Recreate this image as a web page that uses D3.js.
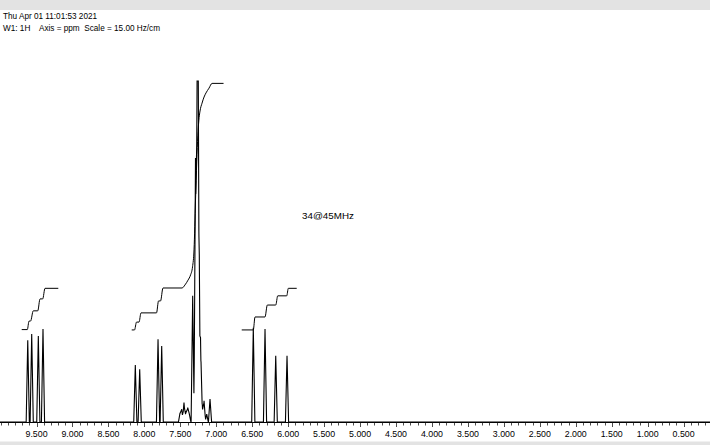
<!DOCTYPE html>
<html><head><meta charset="utf-8">
<script src="https://cdn.jsdelivr.net/npm/d3@7"></script>
<style>html,body{margin:0;padding:0;background:#fff;overflow:hidden}</style>
</head><body><svg id="c" width="710" height="445"></svg>
<script>
// ---------- data ----------
const headerLines = ["Thu Apr 01 11:01:53 2021", "W1: 1H    Axis = ppm  Scale = 15.00 Hz/cm"];
const sampleLabel = "34@45MHz";
const majorTicks = [9.5, 9.0, 8.5, 8.0, 7.5, 7.0, 6.5, 6.0, 5.5, 5.0, 4.5, 4.0, 3.5, 3.0, 2.5, 2.0, 1.5, 1.0, 0.5];
const tickLabels = ["9.500","9.000","8.500","8.000","7.500","7.000","6.500","6.000","5.500","5.000","4.500","4.000","3.500","3.000","2.500","2.000","1.500","1.000","0.500"];

// peak positions (ppm) and heights (% of tallest)
const peakPpm = [9.622, 9.567, 9.475, 9.410,
                 8.126, 8.065, 7.810, 7.759,
                 7.504, 7.481, 7.449, 7.421, 7.397, 7.375,
                 7.328, 7.289, 7.264, 7.250, 7.236, 7.219, 7.212, 7.194, 7.170, 7.133, 7.087,
                 6.485, 6.322, 6.173, 6.016];
const peakHeight = [24.0, 25.8, 25.2, 27.3,
                    16.7, 15.5, 24.3, 22.3,
                    2.7, 3.8, 5.7, 3.2, 4.2, 2.4,
                    37.0, 77.4, 100.0, 61.9, 22.9, 15.0, 6.7, 3.8, 6.2, 2.3, 6.7,
                    27.6, 27.3, 19.4, 19.4];

// integral curves: [ppm, level]
const integralA = [[9.706,27.1],[9.628,27.1],[9.604,29.6],[9.583,29.6],[9.545,32.6],[9.483,32.6],
                   [9.451,36.1],[9.414,36.1],[9.382,39.2],[9.197,39.2]];
const integralB = [[8.176,27.0],[8.137,27.0],[8.109,29.3],[8.074,29.3],[8.047,32.0],[7.831,32.0],
                   [7.803,35.5],[7.775,35.5],[7.741,39.3],[7.476,39.3],[7.435,40.2],[7.393,41.6],
                   [7.358,43.1],[7.330,45.5],[7.309,50.7],[7.289,64.8],[7.271,76.5],[7.257,83.9],
                   [7.243,88.3],[7.226,91.2],[7.198,93.5],[7.170,95.3],[7.143,96.5],[7.101,97.9],
                   [7.059,99.3],[6.899,99.3]];
const integralC = [[6.646,27.0],[6.485,27.0],[6.461,30.8],[6.322,30.8],[6.290,34.3],[6.173,34.3],
                   [6.145,37.0],[6.020,37.0],[5.998,39.2],[5.881,39.2]];

// ---------- drawing ----------
const W = 710, H = 445;
const svg = d3.select("#c");
const font = "'Liberation Sans', Arial, Helvetica, sans-serif";

svg.append("rect").attr("x",0).attr("y",0).attr("width",W).attr("height",10).attr("fill","#e3e3e3");
svg.append("rect").attr("x",0).attr("y",441.5).attr("width",W).attr("height",4).attr("fill","#e3e3e3");

const x = d3.scaleLinear().domain([10.008, 0.133]).range([0, W]);
const y = d3.scaleLinear().domain([0, 100]).range([422, 81]);

// header
svg.append("g").selectAll("text").data(headerLines).join("text")
  .attr("x", 3).attr("y", (d,i) => 18.5 + i*12)
  .attr("font-family", font).attr("font-size", 8.2).attr("fill", "#000")
  .style("white-space", "pre").attr("xml:space","preserve")
  .text(d => d);

svg.append("text").attr("x", 302).attr("y", 219)
  .attr("font-family", font).attr("font-size", 9.8).attr("fill", "#000")
  .text(sampleLabel);

// axis
const minorTicks = d3.range(1, 101).map(i => i/10).filter(v => x(v) >= 0 && x(v) <= W);
const axis = svg.append("g").attr("transform", "translate(0,422)");
axis.append("line").attr("x1",0).attr("x2",W).attr("y1",0.5).attr("y2",0.5).attr("stroke","#000").attr("stroke-width",1);
axis.selectAll("line.minor").data(minorTicks).join("line").attr("class","minor")
  .attr("x1", d => Math.round(x(d))+0.5).attr("x2", d => Math.round(x(d))+0.5)
  .attr("y1", 0.5).attr("y2", d => majorTicks.some(m => Math.abs(m-d)<1e-6) ? 5 : 3.5)
  .attr("stroke", "#222").attr("stroke-width", 0.8);
axis.selectAll("text").data(majorTicks).join("text")
  .attr("x", d => x(d)).attr("y", 15.3).attr("text-anchor","middle")
  .attr("font-family", font).attr("font-size", 8.8).attr("fill","#000")
  .text((d,i) => tickLabels[i]);

// spectrum: piecewise-linear sum of narrow peak profiles
const hw = 0.022;
const bp = new Set([x.domain()[0], x.domain()[1]]);
peakPpm.forEach(p => { bp.add(p - hw); bp.add(p); bp.add(p + hw); });
const pts = Array.from(bp).sort((a,b) => b - a).map(q => {
  let s = 0;
  peakPpm.forEach((p,i) => { const d = Math.abs(q - p); if (d < hw) s += peakHeight[i] * (1 - d/hw); });
  return [q, Math.min(s, 100)];
});
const specLine = d3.line().x(d => x(d[0])).y(d => y(d[1]));
svg.append("path").attr("d", specLine(pts)).attr("fill","none").attr("stroke","#000").attr("stroke-width",1.1);

// integrals
const intLine = d3.line().x(d => x(d[0])).y(d => y(d[1])).curve(d3.curveMonotoneX);
[integralA, integralB, integralC].forEach(arr => {
  svg.append("path").attr("d", intLine(arr)).attr("fill","none").attr("stroke","#000").attr("stroke-width",1);
});
</script></body></html>
